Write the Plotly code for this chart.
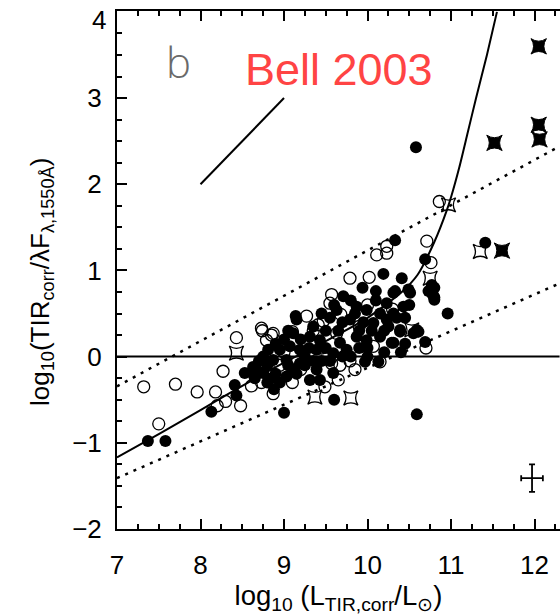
import plotly.graph_objects as go

# ---- data ----
open_x = [7.32, 7.70, 7.96, 8.18, 8.27, 8.20, 8.30, 7.50, 8.43, 8.48, 8.61, 8.73,
          8.74, 8.85, 8.79, 8.73, 8.87, 9.27, 9.41, 9.10, 9.47, 9.57, 9.55, 9.68,
          9.63, 9.79, 10.02, 10.11, 10.23, 10.23, 10.71, 10.76, 10.86, 10.70,
          9.57, 9.67, 9.79, 10.07, 10.15, 9.49, 9.65, 8.87, 9.00, 9.20, 9.35,
          9.90, 10.30, 9.45, 9.85, 10.00, 8.95, 9.10]
open_y = [-0.35, -0.32, -0.41, -0.41, -0.17, -0.57, -0.52, -0.78, 0.22, -0.57, -0.34, -0.30,
          0.30, 0.25, 0.19, 0.33, 0.27, 0.47, 0.37, 0.29, 0.41, 0.72, 0.62, 0.49,
          0.27, 0.91, 0.92, 1.18, 1.28, 1.20, 1.34, 1.09, 1.80, 0.10,
          -0.08, -0.10, -0.05, 0.12, -0.06, -0.35, -0.27, -0.43, 0.05, -0.15, 0.30,
          0.35, 0.55, 0.10, -0.15, 0.60, -0.10, -0.30]

filled_x = [7.37, 7.58, 8.13, 8.41, 8.43, 8.53, 8.61, 8.67, 8.80, 8.88, 9.00, 9.14,
            9.31, 9.43, 9.59, 9.60, 10.96, 10.61, 10.39, 10.29, 10.13, 9.97, 10.80,
            10.33, 10.69, 10.19, 10.41, 10.77, 10.80, 10.73, 10.80, 9.94, 10.10, 9.71,
            10.33, 10.49, 10.58, 10.59, 11.41, 10.55, 10.69,
            9.63, 9.87, 9.99, 10.23, 10.43, 10.31, 9.15, 9.79, 10.07, 10.23, 10.39,
            10.59, 8.81, 9.11, 9.31, 9.43, 9.67, 9.87, 9.99, 10.15, 10.31, 8.95,
            9.07, 9.19, 9.39, 9.59, 9.75, 8.87, 9.03, 9.19, 9.39, 8.63, 8.75, 9.03,
            10.31, 10.51, 10.78, 9.50, 9.55, 9.90, 10.00, 10.45, 9.25, 9.45, 9.10,
            8.90, 9.65, 9.35, 10.20, 10.00, 9.80,
            8.70, 8.75, 8.85, 8.95, 9.05, 9.15, 9.25, 9.30, 9.00, 8.90, 9.20, 9.05,
            9.50, 9.55, 9.70, 9.70, 9.85, 9.95, 10.05, 10.15, 10.25, 10.35, 10.45,
            10.50, 10.40, 10.10, 9.80, 9.60, 9.45, 10.20, 9.90, 9.35, 8.65, 8.80]
filled_y = [-0.98, -0.98, -0.64, -0.33, -0.45, -0.19, -0.18, -0.15, -0.10, -0.38, -0.65, 0.47,
            -0.27, -0.27, -0.19, -0.50, 0.50, 0.29, 0.29, 0.16, -0.06, -0.06, 0.66,
            1.35, 1.13, 0.96, 0.91, 0.83, 0.80, 0.76, 0.69, 0.80, 0.76, 0.70,
            0.76, 0.78, 2.43, -0.67, 1.32, 0.27, 0.17,
            0.54, 0.58, 0.54, 0.62, 0.58, 0.50, 0.43, 0.43, 0.39, 0.43, 0.31,
            0.31, 0.08, 0.27, 0.23, 0.19, 0.16, 0.23, 0.19, 0.23, 0.16, 0.08,
            0.12, 0.08, 0.08, 0.04, 0.08, -0.04, -0.04, -0.08, -0.15, -0.12, -0.19, -0.23,
            0.74, 0.74, 0.72, 0.30, 0.45, 0.30, 0.10, 0.45, 0.00, -0.05, -0.15,
            -0.20, 0.30, 0.35, 0.30, 0.00, 0.00,
            -0.05, 0.00, -0.25, -0.30, -0.10, -0.20, -0.10, 0.10, 0.20, 0.15, 0.20, 0.30,
            0.10, -0.05, 0.00, 0.40, 0.50, 0.40, 0.30, 0.50, 0.35, 0.45, 0.15,
            0.60, 0.05, 0.65, 0.65, 0.60, 0.50, 0.05, 0.10, -0.05, -0.25, -0.30]

ostar_x = [8.43, 9.37, 9.80, 10.75, 10.97, 11.35, 10.53]
ostar_y = [0.04, -0.47, -0.48, 0.91, 1.76, 1.22, 0.31]

fstar_x = [12.05, 11.52, 12.05, 12.06, 11.61]
fstar_y = [3.60, 2.48, 2.69, 2.52, 1.23]

curve_x = [7.0, 7.5, 8.0, 8.5, 9.0, 9.5, 10.0, 10.4, 10.6, 10.8, 10.95, 11.0,
           11.1, 11.2, 11.3, 11.43, 11.55]
curve_y = [-1.17, -0.90, -0.62, -0.34, -0.07, 0.18, 0.45, 0.74, 0.95, 1.33, 1.70, 1.85,
           2.20, 2.60, 3.00, 3.50, 4.00]

upper_x = [7.0, 12.3]
upper_y = [-0.345, 2.44]
lower_x = [7.0, 12.3]
lower_y = [-1.41, 0.85]

zero_x = [7.0, 12.3]
zero_y = [0.0, 0.0]

bell_x = [8.0, 9.0]
bell_y = [2.0, 3.0]

err_x = [11.97]
err_y = [-1.41]
err_dx = [0.13]
err_dy = [0.16]

x_ticks = [7, 8, 9, 10, 11, 12]
y_ticks = [-2, -1, 0, 1, 2, 3, 4]

fig = go.Figure()

def line(xs, ys, dash="solid", width=2):
    fig.add_trace(go.Scatter(x=xs, y=ys, mode="lines",
                             line=dict(color="black", width=width, dash=dash),
                             hoverinfo="skip", showlegend=False))

line(zero_x, zero_y, width=2)
line(upper_x, upper_y, dash="3px,6px", width=2.5)
line(lower_x, lower_y, dash="3px,6px", width=2.5)
fig.add_trace(go.Scatter(x=curve_x, y=curve_y, mode="lines",
                         line=dict(color="black", width=2, shape="spline", smoothing=0.6),
                         showlegend=False))
line(bell_x, bell_y, width=2)

fig.add_trace(go.Scatter(x=open_x, y=open_y, mode="markers", showlegend=False,
                         marker=dict(symbol="circle-open", size=12,
                                     color="black", line=dict(width=1.3, color="black"))))
fig.add_trace(go.Scatter(x=filled_x, y=filled_y, mode="markers", showlegend=False,
                         marker=dict(symbol="circle", size=12, color="black",
                                     line=dict(width=0))))
fig.add_trace(go.Scatter(x=ostar_x, y=ostar_y, mode="markers", showlegend=False,
                         marker=dict(symbol="star-square-open", size=13, color="black",
                                     line=dict(width=1.3, color="black"))))
fig.add_trace(go.Scatter(x=fstar_x, y=fstar_y, mode="markers", showlegend=False,
                         marker=dict(symbol="star-square", size=14, color="black",
                                     line=dict(width=1, color="black"))))
fig.add_trace(go.Scatter(x=err_x, y=err_y, mode="markers", showlegend=False,
                         marker=dict(size=1, color="black"),
                         error_x=dict(type="data", array=err_dx, color="black",
                                      thickness=1.8, width=3),
                         error_y=dict(type="data", array=err_dy, color="black",
                                      thickness=1.8, width=3)))

fig.add_annotation(x=7.74, y=3.42, text="b", showarrow=False,
                   font=dict(size=42, color="#6a6a6a", family="Open Sans", weight=300))
fig.add_annotation(x=9.655, y=3.33, text="Bell 2003", showarrow=False,
                   font=dict(size=45, color="#ff4444", family="Liberation Sans"))

tick_font = dict(size=26, family="Liberation Sans", color="black")
# the top "4" label sits a little below its tick in the reference
fig.add_annotation(xref="paper", x=0, y=y_ticks[-1], text=str(y_ticks[-1]),
                   showarrow=False, xanchor="right", yanchor="middle",
                   xshift=-9, yshift=-8, font=tick_font)

# y-axis title as a rotated annotation (placed to match the reference)
fig.add_annotation(xref="paper", yref="paper", x=0, y=0.5,
                   text="log<sub>10</sub>(TIR<sub>corr</sub>/λF<sub>λ,1550Å</sub>)",
                   textangle=-90, showarrow=False, xanchor="center", yanchor="middle",
                   xshift=-76, yshift=-12,
                   font=dict(size=26, family="Liberation Sans", color="black"))

axis_common = dict(showgrid=False, zeroline=False, showline=True, linecolor="black",
                   linewidth=2, ticks="inside", ticklen=10, tickwidth=1.5,
                   tickcolor="black", tickfont=tick_font)

fig.update_xaxes(range=[7, 12.305], tickvals=x_ticks, ticktext=[str(v) for v in x_ticks],
                 mirror="ticks", ticklabelstandoff=12,
                 minor=dict(dtick=0.25, ticks="inside", ticklen=5, tickwidth=1.5,
                            tickcolor="black"),
                 title=dict(text="log<sub>10</sub> (L<sub>TIR,corr</sub>/L<sub>⊙</sub>)",
                            font=dict(size=27.5, family="Liberation Sans", color="black"),
                            standoff=3),
                 **axis_common)
fig.update_yaxes(range=[-2, 4.01], tickvals=y_ticks,
                 ticktext=[("\u2212" + str(-v)) if v < 0 else ("" if v == 4 else str(v))
                           for v in y_ticks],
                 mirror=False, ticklabelstandoff=8,
                 minor=dict(dtick=0.25, ticks="inside", ticklen=5, tickwidth=1.5,
                            tickcolor="black"),
                 **axis_common)

fig.update_layout(width=560, height=615, margin=dict(l=117, r=0, t=11, b=86),
                  plot_bgcolor="white", paper_bgcolor="white", showlegend=False)

fig.write_html("out.html")
